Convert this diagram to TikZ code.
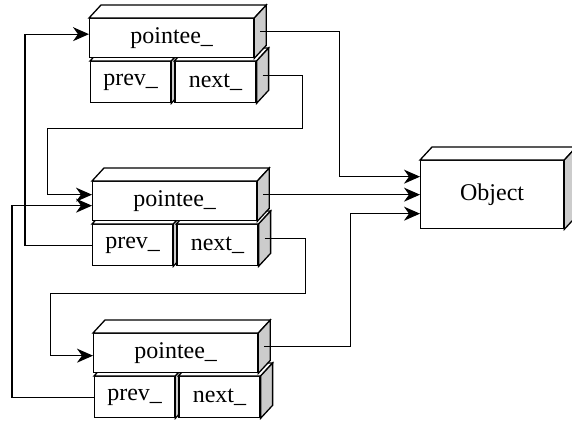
\documentclass[tikz,border=0pt]{standalone}
\usepackage{fontspec}
\setmainfont{Liberation Serif}
\usetikzlibrary{arrows.meta}

\tikzset{
    cell/.style={draw, fill=white, line width=0.65pt, inner sep=0pt, anchor=north west,
        minimum height=20.5pt, font=\fontsize{12}{14}\selectfont},
    link/.style={line width=0.6pt},
    arr/.style={link, -{Stealth[length=8pt,width=7pt,inset=2.5pt]}}
}

% top and right faces of a box, plus the middle of its right face
\newcommand{\depthfaces}[1]{%
    \draw[line width=0.65pt, fill=white] (#1.north west) -- ++(12,-13)
        -- ([shift={(12,-13)}]#1.north east) -- (#1.north east) -- cycle;
    \draw[line width=0.65pt, fill=black!20] (#1.north east) -- ++(12,-13)
        -- ([shift={(12,-13)}]#1.south east) -- (#1.south east) -- cycle;
    \coordinate (#1-side) at ([shift={(6,-6.5)}]#1.east);
}

\begin{document}
\begin{tikzpicture}[x=0.5pt, y=-0.5pt]
    \useasboundingbox (0,0) rectangle (572,420);
    \clip (0,0) rectangle (572,420);

    % top element
    \node[cell, minimum width=40pt] (pv1) at (90,61) {prev\_};
    \depthfaces{pv1}
    \node[cell, minimum width=40.5pt] (nx1) at ([xshift=1.5pt]pv1.north east) {next\_};
    \depthfaces{nx1}
    \node[cell, minimum width=82pt, minimum height=19.5pt] (p1) at (89,18) {pointee\_};
    \depthfaces{p1}

    % middle element
    \node[cell, minimum width=40pt] (pv2) at (92,224) {prev\_};
    \depthfaces{pv2}
    \node[cell, minimum width=40.5pt] (nx2) at ([xshift=1.5pt]pv2.north east) {next\_};
    \depthfaces{nx2}
    \node[cell, minimum width=82pt, minimum height=19.5pt] (p2) at (92,181) {pointee\_};
    \depthfaces{p2}

    % bottom element
    \node[cell, minimum width=40pt] (pv3) at (94,376) {prev\_};
    \depthfaces{pv3}
    \node[cell, minimum width=40.5pt] (nx3) at ([xshift=1.5pt]pv3.north east) {next\_};
    \depthfaces{nx3}
    \node[cell, minimum width=82pt, minimum height=19.5pt] (p3) at (93,333) {pointee\_};
    \depthfaces{p3}

    % pointed-to object
    \node[cell, minimum width=71.5pt, minimum height=34pt] (obj) at (420,160) {Object};
    \depthfaces{obj}

    % pointee_ -> Object
    \draw[arr] (p1-side) -- ++(79,0) |- ([yshift=9pt]obj.west);
    \draw[arr] (p2-side) -- (p2-side -| obj.west);
    \draw[arr] (p3-side) -- ++(86,0) |- ([yshift=-9.5pt]obj.west);

    % next_ -> following pointee_
    \draw[arr] (nx1-side) -- ++(40,0) -- ++(0,53) -- ++(-255,0) |- ([yshift=3.25pt]p2.west);
    \draw[arr] (nx2-side) -- ++(41,0) -- ++(0,55) -- ++(-255,0) |- ([yshift=-1.25pt]p3.west);

    % prev_ -> preceding pointee_
    \draw[arr] (pv2.west) -- ++(-67,0) |- ([yshift=2pt]p1.west);
    \draw[arr] (pv3.west) -- ++(-82,0) |- ([yshift=-2.25pt]p2.west);
\end{tikzpicture}
\end{document}
